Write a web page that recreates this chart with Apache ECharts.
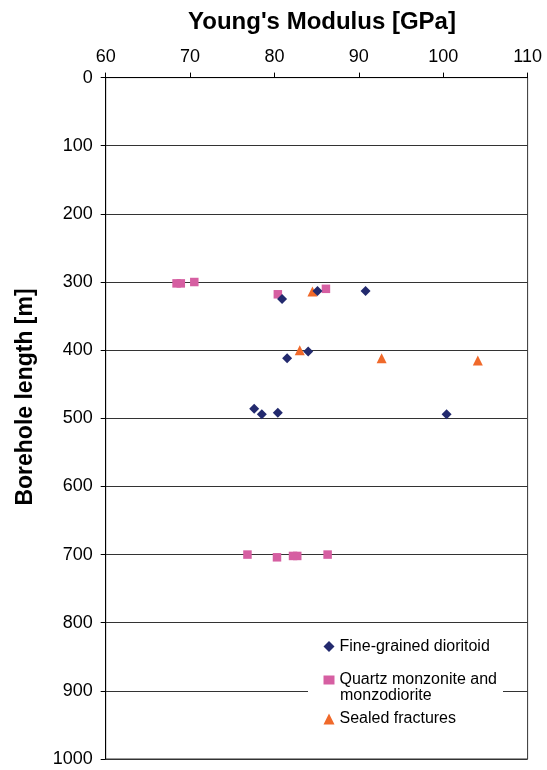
<!DOCTYPE html>
<html>
<head>
<meta charset="utf-8">
<script src="https://cdn.jsdelivr.net/npm/echarts@6/dist/echarts.min.js"></script>
<style>html,body{margin:0;padding:0;background:#fff;}#c{width:547px;height:770px;}</style>
</head>
<body>
<div id="c"></div>
<script>
// Young's modulus [GPa], borehole length [m]
var dioritoidModulus = [80.9, 85.1, 90.8, 81.5, 84.0, 77.6, 78.5, 80.4, 100.4];
var dioritoidDepth   = [325, 313, 313, 412, 402, 486, 494, 492, 494];
var quartzModulus = [68.4, 68.9, 70.5, 80.4, 86.1, 76.8, 80.3, 82.2, 82.7, 86.3];
var quartzDepth   = [302, 302, 300, 318, 310, 700, 704, 702, 702, 700];
var sealedModulus = [84.5, 83.0, 92.7, 104.1];
var sealedDepth   = [314, 400, 412, 415];
var seriesNames = ['Fine-grained dioritoid', 'Quartz monzonite and monzodiorite', 'Sealed fractures'];
var xTicks = [60, 70, 80, 90, 100, 110];
var yTicks = [0, 100, 200, 300, 400, 500, 600, 700, 800, 900, 1000];

function pairs(xs, ys) { return xs.map(function (x, i) { return [x, ys[i]]; }); }

var FONT = "'Liberation Sans', Arial, sans-serif";
var COLORS = ['#232a6e', '#d65fa2', '#f0692a'];
var chart = echarts.init(document.getElementById('c'));
var legendText = { fontFamily: FONT, fontSize: 16, color: '#000', lineHeight: 16 };
chart.setOption({
  animation: false,
  backgroundColor: '#fff',
  grid: { left: 105.7, right: 19.4, top: 77.6, bottom: 11, show: true, borderColor: '#333', borderWidth: 1, backgroundColor: 'transparent' },
  xAxis: {
    type: 'value', position: 'top', min: xTicks[0], max: xTicks[xTicks.length - 1], interval: 10,
    axisLine: { show: true, lineStyle: { color: '#000', width: 1 } },
    axisTick: { show: true, inside: false, length: 5, lineStyle: { color: '#000' } },
    axisLabel: { fontFamily: FONT, fontSize: 18, color: '#000', margin: 12, formatter: function (v) { return String(v); } },
    splitLine: { show: false }
  },
  yAxis: {
    type: 'value', inverse: true, min: yTicks[0], max: yTicks[yTicks.length - 1], interval: 100,
    axisLine: { show: true, lineStyle: { color: '#000', width: 1 } },
    axisTick: { show: true, inside: false, length: 5, lineStyle: { color: '#000' } },
    axisLabel: { fontFamily: FONT, fontSize: 18, color: '#000', margin: 13, formatter: function (v) { return String(v); } },
    splitLine: { show: true, lineStyle: { color: '#333', width: 1 } }
  },
  legend: [
    { data: [seriesNames[0]], left: 323.5, top: 638.5, orient: 'vertical', itemWidth: 11, itemHeight: 11, itemGap: 0, padding: 0, textStyle: legendText, z: 10 },
    { data: [seriesNames[1]], left: 323.5, top: 672, orient: 'vertical', itemWidth: 11, itemHeight: 9, itemGap: 0, padding: 0, textStyle: legendText, z: 10,
      formatter: function () { return 'Quartz monzonite and'; } },
    { data: [seriesNames[2]], left: 323.5, top: 711, orient: 'vertical', itemWidth: 11, itemHeight: 11, itemGap: 0, padding: 0, textStyle: legendText, z: 10 }
  ],
  graphic: [
    { type: 'rect', z: 5, shape: { x: 308, y: 625, width: 195, height: 108 }, style: { fill: '#fff' } },
    { type: 'text', z: 11, left: 340, top: 688, style: { text: 'monzodiorite', font: '16px ' + FONT, fill: '#000' } },
    { type: 'text', z: 11, x: 322, y: 22, style: { text: "Young's Modulus [GPa]", font: 'bold 24px ' + FONT, fill: '#000', align: 'center', verticalAlign: 'middle' } },
    { type: 'text', z: 11, x: 26, y: 397, rotation: Math.PI / 2, style: { text: 'Borehole length [m]', font: 'bold 23px ' + FONT, fill: '#000', align: 'center', verticalAlign: 'middle' } }
  ],
  series: [
    { name: seriesNames[0], type: 'scatter', symbol: 'diamond', symbolSize: 10, itemStyle: { color: COLORS[0], opacity: 1 }, data: pairs(dioritoidModulus, dioritoidDepth), z: 3 },
    { name: seriesNames[1], type: 'scatter', symbol: 'rect', symbolSize: 8.5, itemStyle: { color: COLORS[1], opacity: 1 }, data: pairs(quartzModulus, quartzDepth), z: 2 },
    { name: seriesNames[2], type: 'scatter', symbol: 'triangle', symbolSize: 10, itemStyle: { color: COLORS[2], opacity: 1 }, data: pairs(sealedModulus, sealedDepth), z: 2 }
  ]
});
</script>
</body>
</html>
